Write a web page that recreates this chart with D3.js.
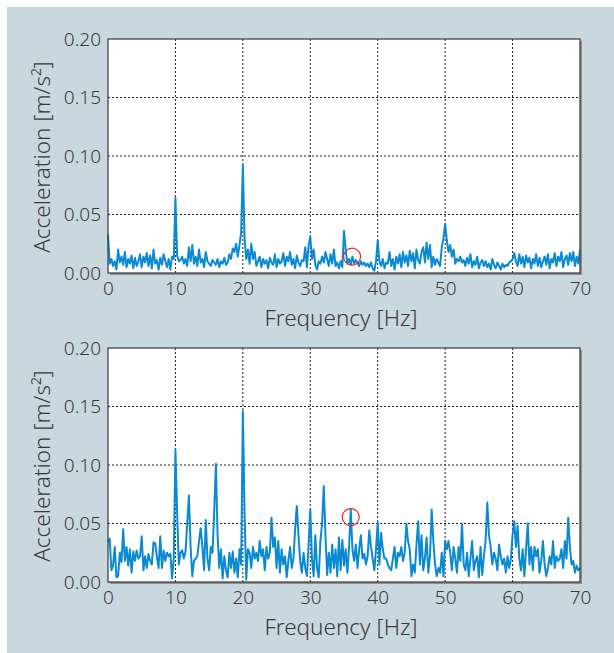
<!doctype html>
<html>
<head>
<meta charset="utf-8"/>
<title>Acceleration spectra</title>
<script src="https://d3js.org/d3.v7.min.js"></script>
<style>
  body { margin: 0; background: #fff; }
  text { font-family: "Noto Sans", "Open Sans", sans-serif; fill: #3a3a3a; font-weight: 300; }
</style>
</head>
<body>
<div id="chart"></div>
<script>
// frequency step of the readings [Hz]
var step = 0.25;

// values in 1/1000 m/s^2, one row per 10 Hz
var topValues = [
  33, 8, 12, 6, 10, 3, 20, 9, 14, 7, 18, 5, 12, 8, 15, 4, 13, 6, 10, 16, 5, 14, 9, 17, 6, 15, 4, 20, 8, 11, 3, 13, 7, 16, 10, 5, 12, 3, 14, 12,
  64, 15, 10, 11, 14, 8, 12, 6, 22, 10, 24, 8, 14, 6, 20, 9, 12, 5, 18, 10, 8, 6, 11, 9, 7, 12, 5, 10, 8, 13, 7, 9, 16, 12, 21, 18, 25, 14, 24, 35,
  92, 30, 12, 20, 8, 25, 12, 18, 6, 10, 14, 5, 12, 8, 11, 4, 13, 9, 7, 16, 5, 12, 8, 10, 17, 6, 14, 10, 18, 7, 12, 4, 15, 9, 6, 11, 10, 22, 5, 24,
  31, 12, 20, 7, 3, 10, 8, 14, 9, 18, 12, 6, 16, 8, 20, 6, 9, 4, 10, 5, 36, 20, 8, 12, 7, 14, 8, 11, 9, 6, 10, 7, 9, 6, 8, 5, 9, 4, 2, 10,
  28, 10, 6, 12, 4, 9, 8, 18, 6, 12, 3, 14, 8, 16, 5, 18, 9, 15, 6, 19, 10, 17, 4, 20, 11, 8, 18, 22, 9, 26, 12, 24, 5, 14, 7, 12, 9, 6, 22, 30,
  42, 28, 18, 24, 14, 20, 8, 12, 10, 14, 9, 11, 6, 13, 8, 16, 5, 10, 7, 14, 4, 9, 11, 6, 10, 5, 8, 3, 12, 7, 4, 9, 6, 3, 8, 5, 7, 6, 9, 10,
  12, 17, 10, 6, 16, 8, 14, 5, 15, 9, 13, 4, 12, 8, 16, 6, 13, 5, 10, 14, 7, 16, 4, 12, 9, 17, 6, 14, 10, 18, 5, 12, 15, 7, 17, 10, 18, 6, 14, 8,
  20
];

var bottomValues = [
  34, 37, 10, 14, 30, 4, 5, 25, 17, 45, 18, 30, 14, 28, 8, 26, 18, 27, 20, 22, 39, 10, 22, 12, 24, 18, 15, 34, 33, 22, 12, 39, 12, 27, 18, 25, 22, 24, 3, 20,
  113, 60, 15, 25, 27, 20, 26, 50, 74, 30, 5, 18, 20, 22, 35, 46, 30, 10, 53, 20, 10, 30, 25, 60, 101, 40, 12, 28, 3, 22, 10, 4, 25, 12, 26, 8, 20, 4, 28, 15,
  146, 60, 2, 28, 25, 12, 30, 20, 25, 18, 35, 22, 28, 10, 30, 20, 25, 55, 30, 38, 12, 35, 8, 28, 15, 22, 4, 18, 30, 12, 20, 45, 65, 40, 18, 8, 25, 12, 5, 32,
  62, 20, 5, 40, 12, 4, 35, 50, 82, 40, 6, 25, 8, 32, 12, 28, 5, 38, 10, 36, 14, 28, 8, 30, 62, 28, 18, 32, 12, 28, 40, 20, 24, 15, 22, 44, 30, 20, 10, 28,
  51, 15, 42, 28, 20, 20, 15, 12, 10, 20, 30, 12, 25, 22, 30, 18, 25, 50, 35, 28, 5, 15, 8, 32, 52, 15, 40, 10, 20, 38, 8, 22, 62, 35, 15, 5, 12, 8, 25, 5,
  35, 28, 35, 25, 10, 30, 20, 8, 30, 18, 50, 15, 10, 25, 5, 20, 35, 10, 18, 22, 4, 30, 6, 22, 35, 68, 40, 30, 15, 25, 20, 10, 32, 22, 15, 20, 8, 22, 12, 20,
  40, 52, 30, 48, 20, 10, 28, 5, 28, 50, 15, 30, 10, 30, 22, 28, 8, 18, 35, 15, 5, 12, 22, 15, 35, 12, 22, 18, 20, 28, 12, 35, 20, 55, 30, 15, 18, 8, 14, 10,
  12
];

// marked readings [Hz, 1/1000 m/s^2]
var topMark = [36.2, 14];
var bottomMark = [36.0, 55.5];

var xTicks = [0, 10, 20, 30, 40, 50, 60, 70];
var yTicks = [0, 0.05, 0.10, 0.15, 0.20];

var W = 614, H = 653;
var svg = d3.select("#chart").append("svg")
  .attr("width", W)
  .attr("height", H);

svg.append("rect")
  .attr("x", 7).attr("y", 7)
  .attr("width", W - 7).attr("height", H - 7)
  .attr("fill", "#c9d7df");

Panel(topValues, topMark, 39);
Panel(bottomValues, bottomMark, 348);

function Panel(vals, mark, top)
{
  var left = 108, right = 580, bottom = top + 234;

  var x = d3.scaleLinear().domain([0, 70]).range([left, right]);
  var y = d3.scaleLinear().domain([0, 0.2]).range([bottom, top]);

  var g = svg.append("g");

  // shadow + white plot area
  g.append("rect")
    .attr("x", left + 2).attr("y", top + 2)
    .attr("width", right - left).attr("height", bottom - top)
    .attr("fill", "#8a9096");
  g.append("rect")
    .attr("x", left).attr("y", top)
    .attr("width", right - left).attr("height", bottom - top)
    .attr("fill", "#fff");

  // dotted grid
  g.selectAll(".gx").data(xTicks.slice(1, -1)).enter().append("line")
    .attr("x1", d => x(d)).attr("x2", d => x(d))
    .attr("y1", top).attr("y2", bottom)
    .attr("stroke", "#222").attr("stroke-width", 1)
    .attr("stroke-dasharray", "2,2");
  g.selectAll(".gy").data(yTicks.slice(1, -1)).enter().append("line")
    .attr("x1", left).attr("x2", right)
    .attr("y1", d => y(d)).attr("y2", d => y(d))
    .attr("stroke", "#222").attr("stroke-width", 1)
    .attr("stroke-dasharray", "2,2");

  // spectrum
  var line = d3.line()
    .x((d, i) => x(i * step))
    .y(d => y(d / 1000));
  g.append("path")
    .datum(vals)
    .attr("d", line)
    .attr("fill", "none")
    .attr("stroke", "#0a8ad2")
    .attr("stroke-width", 2)
    .attr("stroke-linejoin", "round");

  // frame
  g.append("rect")
    .attr("x", left).attr("y", top)
    .attr("width", right - left).attr("height", bottom - top)
    .attr("fill", "none")
    .attr("stroke", "#444").attr("stroke-width", 1.3);

  // axes (labels only)
  var ax = g.append("g")
    .attr("transform", "translate(0," + bottom + ")")
    .call(d3.axisBottom(x).tickValues(xTicks).tickSize(0).tickPadding(9));
  var ay = g.append("g")
    .attr("transform", "translate(" + left + ",0)")
    .call(d3.axisLeft(y).tickValues(yTicks).tickSize(0).tickPadding(7).tickFormat(d3.format(".2f")));
  [ax, ay].forEach(function(a) {
    a.select(".domain").remove();
    a.selectAll("text")
      .attr("font-family", "'Noto Sans', sans-serif")
      .attr("font-size", 19)
      .attr("fill", "#3a3a3a");
  });

  // red circle
  g.append("circle")
    .attr("cx", x(mark[0])).attr("cy", y(mark[1] / 1000))
    .attr("r", 8.5)
    .attr("fill", "none")
    .attr("stroke", "#e8262b").attr("stroke-width", 1.2);

  // titles
  g.append("text")
    .attr("x", (left + right) / 2 - 3).attr("y", bottom + 53)
    .attr("text-anchor", "middle")
    .attr("font-size", 22.5)
    .text("Frequency [Hz]");

  g.append("text")
    .attr("transform", "translate(50," + ((top + bottom) / 2 + 1) + ") rotate(-90)")
    .attr("text-anchor", "middle")
    .attr("font-size", 22.5)
    .text("Acceleration [m/s²]");
}
</script>
</body>
</html>
